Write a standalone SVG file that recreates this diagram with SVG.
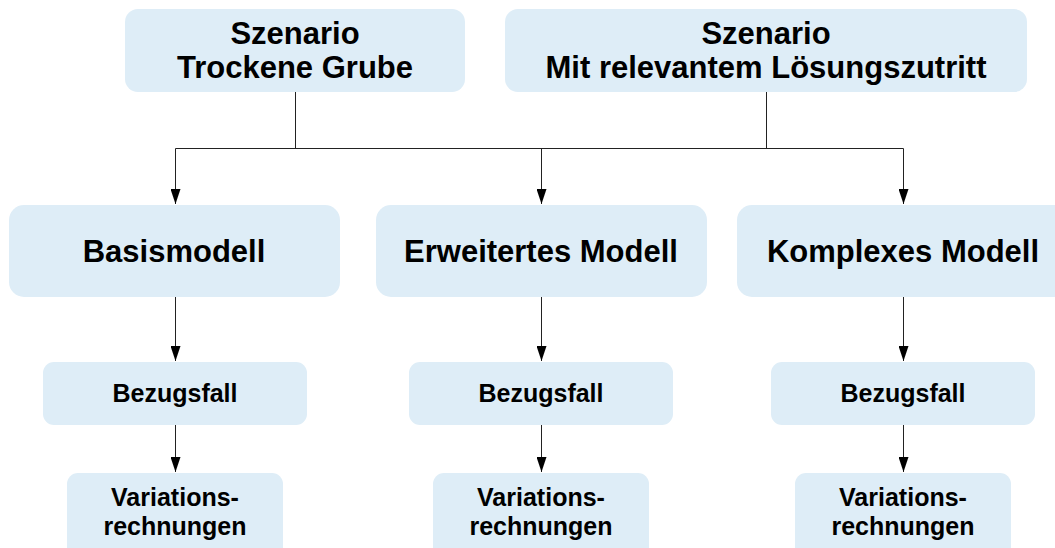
<svg xmlns="http://www.w3.org/2000/svg" width="1055" height="548" viewBox="0 0 1055 548">
<style>
.box{fill:#deedf7;}
text{font-family:"Liberation Sans",Arial,sans-serif;font-weight:bold;fill:#000;text-anchor:middle;}
.t1{font-size:31px;}
.t2{font-size:31px;}
.t3{font-size:25px;}
.c{stroke:#222;stroke-width:1;fill:none;}
.a{marker-end:url(#arr);}
</style>
<defs>
<marker id="arr" viewBox="0 0 15 10" refX="15" refY="5" markerWidth="15" markerHeight="10" markerUnits="userSpaceOnUse" orient="auto">
<path d="M0,0 L15,5 L0,10 z" fill="#000"/>
</marker>
</defs>
<g id="connectors">
<path class="c" d="M295.5,92 V148.5 M766.5,92 V148.5 M175.5,148.5 H903.5"/>
<path class="c a" d="M175.5,148.5 V204"/>
<path class="c a" d="M541.5,148.5 V204"/>
<path class="c a" d="M903.5,148.5 V204"/>
<path class="c a" d="M175.5,297 V361"/>
<path class="c a" d="M541.5,297 V361"/>
<path class="c a" d="M903.5,297 V361"/>
<path class="c a" d="M175.5,425 V472"/>
<path class="c a" d="M541.5,425 V472"/>
<path class="c a" d="M903.5,425 V472"/>
</g>
<g id="szenario-trocken">
<rect class="box" x="125" y="9" width="340" height="83" rx="13"/>
<text class="t1" x="295" y="44">Szenario</text>
<text class="t1" x="295" y="78">Trockene Grube</text>
</g>
<g id="szenario-loesung">
<rect class="box" x="505" y="9" width="522" height="83" rx="13"/>
<text class="t1" x="766" y="44">Szenario</text>
<text class="t1" x="766" y="78">Mit relevantem Lösungszutritt</text>
</g>
<g id="basismodell">
<rect class="box" x="9" y="205" width="331" height="92" rx="15"/>
<text class="t2" x="174" y="262">Basismodell</text>
</g>
<g id="erweitertes-modell">
<rect class="box" x="376" y="205" width="331" height="92" rx="15"/>
<text class="t2" x="541" y="262">Erweitertes Modell</text>
</g>
<g id="komplexes-modell">
<rect class="box" x="737" y="205" width="331" height="92" rx="15"/>
<text class="t2" x="903" y="262">Komplexes Modell</text>
</g>
<g id="bezugsfall-1">
<rect class="box" x="43" y="362" width="264" height="63" rx="11"/>
<text class="t3" x="175" y="402">Bezugsfall</text>
</g>
<g id="bezugsfall-2">
<rect class="box" x="409" y="362" width="264" height="63" rx="11"/>
<text class="t3" x="541" y="402">Bezugsfall</text>
</g>
<g id="bezugsfall-3">
<rect class="box" x="771" y="362" width="264" height="63" rx="11"/>
<text class="t3" x="903" y="402">Bezugsfall</text>
</g>
<g id="variationen-1">
<rect class="box" x="67" y="473" width="216" height="90" rx="11"/>
<text class="t3" x="175" y="506">Variations-</text>
<text class="t3" x="175" y="535">rechnungen</text>
</g>
<g id="variationen-2">
<rect class="box" x="433" y="473" width="216" height="90" rx="11"/>
<text class="t3" x="541" y="506">Variations-</text>
<text class="t3" x="541" y="535">rechnungen</text>
</g>
<g id="variationen-3">
<rect class="box" x="795" y="473" width="216" height="90" rx="11"/>
<text class="t3" x="903" y="506">Variations-</text>
<text class="t3" x="903" y="535">rechnungen</text>
</g>
</svg>
